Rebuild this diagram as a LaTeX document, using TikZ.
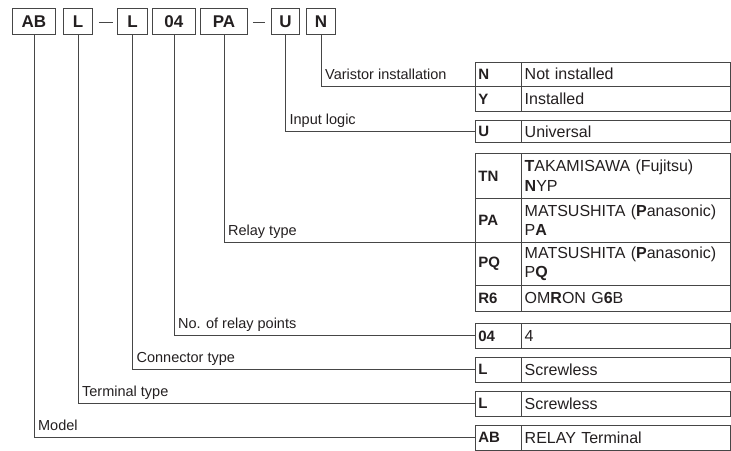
\documentclass[tikz,border=0pt]{standalone}
\usepackage{fontspec}
\setmainfont{Liberation Sans}
\usetikzlibrary{calc}
\definecolor{ink}{RGB}{35,31,32}
\definecolor{ln}{RGB}{70,70,70}
\begin{document}
\begin{tikzpicture}[x=1pt,y=-1pt,
  every node/.style={text=ink},
  topbox/.style={draw=ln, line width=0.9pt, minimum height=26pt, inner sep=0pt,
    anchor=north west, font=\fontsize{17}{20}\selectfont\bfseries},
  codecell/.style={draw=ln, line width=0.8pt, anchor=north west, text width=39pt,
    inner xsep=3.5pt, inner ysep=0pt, align=left, minimum height=#1,
    font=\fontsize{15}{19}\selectfont\bfseries},
  desccell/.style={draw=ln, line width=0.8pt, anchor=north west, text width=203pt,
    inner xsep=3pt, inner ysep=0pt, align=left, minimum height=#1,
    font=\fontsize{16}{19.5}\selectfont},
  lead/.style={draw=ln, line width=0.9pt},
  lab/.style={anchor=base west, inner sep=0pt, font=\fontsize{14.5}{17}\selectfont}]
\useasboundingbox (0,0) rectangle (731,450);

% top code boxes
\node[topbox, minimum width=43pt] (tAB) at (12,8) {AB};
\node[topbox, minimum width=29pt] (tL1) at (63,8) {L};
\node[topbox, minimum width=30pt] (tL2) at (117,8) {L};
\node[topbox, minimum width=43pt] (t04) at (152,8) {04};
\node[topbox, minimum width=47pt] (tPA) at (200,8) {PA};
\node[topbox, minimum width=28pt] (tU) at (271,8) {U};
\node[topbox, minimum width=29pt] (tN) at (306,8) {N};
\draw[lead] ($(tL1.east)+(6,1)$) -- ($(tL2.west)+(-4,1)$);
\draw[lead] ($(tPA.east)+(5,1)$) -- ($(tU.west)+(-6,1)$);

% table rows
\node[codecell=24.5pt] (cN) at (474.5,61.5) {N};
\node[desccell=24.5pt] at (cN.north east) {Not installed};
\node[codecell=25pt] (cY) at (474.5,86) {Y};
\node[desccell=25pt] at (cY.north east) {Installed};

\node[codecell=22pt] (cU) at (474.5,120) {U};
\node[desccell=22pt] at (cU.north east) {Universal};

\node[codecell=45pt] (cTN) at (474.5,153) {TN};
\node[desccell=45pt] at (cTN.north east) {\textbf{T}AKAMISAWA (Fujitsu)\\\textbf{N}YP};
\node[codecell=44pt] (cPA) at (474.5,198) {PA};
\node[desccell=44pt] at (cPA.north east) {MATSUSHITA (\textbf{P}anasonic)\\P\textbf{A}};
\node[codecell=43pt] (cPQ) at (474.5,242) {PQ};
\node[desccell=43pt] at (cPQ.north east) {MATSUSHITA (\textbf{P}anasonic)\\P\textbf{Q}};
\node[codecell=26pt] (cR6) at (474.5,285) {R6};
\node[desccell=26pt] at (cR6.north east) {OM\textbf{R}ON G\textbf{6}B};

\node[codecell=25pt] (c04) at (474.5,323) {04};
\node[desccell=25pt] at (c04.north east) {4};

\node[codecell=24.5pt] (cLc) at (474.5,357) {L};
\node[desccell=24.5pt] at (cLc.north east) {Screwless};

\node[codecell=25pt] (cLt) at (474.5,390.5) {L};
\node[desccell=25pt] at (cLt.north east) {Screwless};

\node[codecell=24.5pt] (cAB) at (474.5,425) {AB};
\node[desccell=24.5pt] at (cAB.north east) {RELAY Terminal};

% leaders
\draw[lead] (tN.south) |- (cN.south west);
\draw[lead] (tU.south) |- (cU.west);
\draw[lead] (tPA.south) |- (cPA.south west);
\draw[lead] (t04.south) |- (c04.west);
\draw[lead] (tL2.south) |- (cLc.west);
\draw[lead] (tL1.south) |- (cLt.west);
\draw[lead] (tAB.south) |- (cAB.west);

% labels
\node[lab] at ($(tN.south |- cN.south west)+(4,-7)$) {Varistor installation};
\node[lab] at ($(tU.south |- cU.west)+(4,-7)$) {Input logic};
\node[lab] at ($(tPA.south |- cPA.south west)+(4,-7)$) {Relay type};
\node[lab] at ($(t04.south |- c04.west)+(4,-7)$) {No. of relay points};
\node[lab] at ($(tL2.south |- cLc.west)+(4,-7)$) {Connector type};
\node[lab] at ($(tL1.south |- cLt.west)+(4,-7)$) {Terminal type};
\node[lab] at ($(tAB.south |- cAB.west)+(4,-7)$) {Model};
\end{tikzpicture}
\end{document}
